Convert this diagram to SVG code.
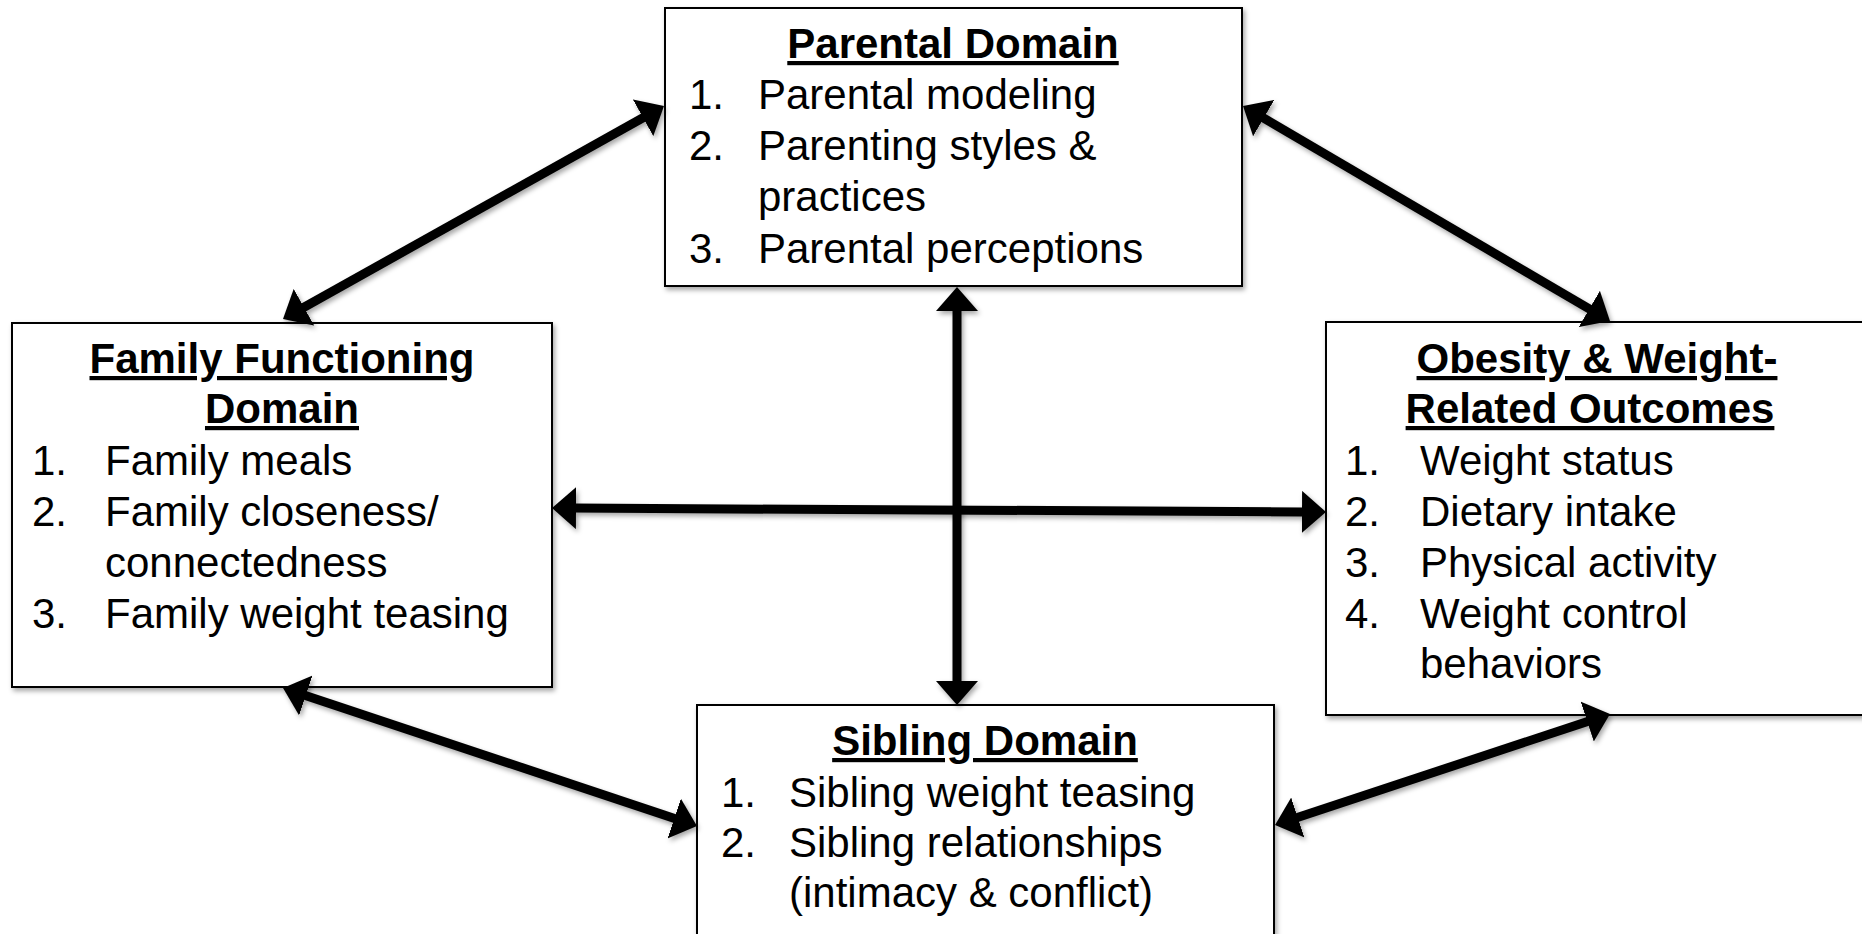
<svg xmlns="http://www.w3.org/2000/svg" width="1862" height="934" viewBox="0 0 1862 934">
  <style>
    .box { fill: #ffffff; stroke: #000000; stroke-width: 2; filter: url(#shadow); }
    .title { font-family: "Liberation Sans", Arial, sans-serif; font-size: 42px; font-weight: bold; text-decoration: underline; text-anchor: middle; fill: #000; }
    .item { font-family: "Liberation Sans", Arial, sans-serif; font-size: 42px; fill: #000; }
    .link { fill: none; stroke: #000000; stroke-width: 9; marker-start: url(#head); marker-end: url(#head); filter: url(#shadow); }
  </style>
  <defs>
    <!-- user-space region so straight horizontal/vertical lines keep their shadow -->
    <filter id="shadow" filterUnits="userSpaceOnUse" x="0" y="0" width="1862" height="934">
      <feDropShadow dx="2" dy="3" stdDeviation="2.5" flood-color="#000000" flood-opacity="0.35"/>
    </filter>
    <marker id="head" markerUnits="userSpaceOnUse" markerWidth="25" markerHeight="42" refX="2" refY="21" orient="auto-start-reverse">
      <path d="M0,0 L24,21 L0,42 z" fill="#000000"/>
    </marker>
  </defs>

  <rect width="1862" height="934" fill="#ffffff"/>

  <!-- Parental domain (top) -->
  <g id="parental">
    <rect class="box" x="665" y="8" width="577" height="278"/>
    <text class="title" x="953" y="58">Parental Domain</text>
    <text class="item" x="689" y="109">1.</text>
    <text class="item" x="758" y="109">Parental modeling</text>
    <text class="item" x="689" y="160">2.</text>
    <text class="item" x="758" y="160">Parenting styles &amp;</text>
    <text class="item" x="758" y="211">practices</text>
    <text class="item" x="689" y="263">3.</text>
    <text class="item" x="758" y="263">Parental perceptions</text>
  </g>

  <!-- Family functioning domain (left) -->
  <g id="family">
    <rect class="box" x="12" y="323" width="540" height="364"/>
    <text class="title" x="282" y="373">Family Functioning</text>
    <text class="title" x="282" y="423">Domain</text>
    <text class="item" x="32" y="475">1.</text>
    <text class="item" x="105" y="475">Family meals</text>
    <text class="item" x="32" y="526">2.</text>
    <text class="item" x="105" y="526">Family closeness/</text>
    <text class="item" x="105" y="577">connectedness</text>
    <text class="item" x="32" y="628">3.</text>
    <text class="item" x="105" y="628">Family weight teasing</text>
  </g>

  <!-- Outcomes (right) -->
  <g id="outcomes">
    <rect class="box" x="1326" y="322" width="544" height="393"/>
    <text class="title" x="1597" y="373">Obesity &amp; Weight-</text>
    <text class="title" x="1590" y="423">Related Outcomes</text>
    <text class="item" x="1345" y="475">1.</text>
    <text class="item" x="1420" y="475">Weight status</text>
    <text class="item" x="1345" y="526">2.</text>
    <text class="item" x="1420" y="526">Dietary intake</text>
    <text class="item" x="1345" y="577">3.</text>
    <text class="item" x="1420" y="577">Physical activity</text>
    <text class="item" x="1345" y="628">4.</text>
    <text class="item" x="1420" y="628">Weight control</text>
    <text class="item" x="1420" y="678">behaviors</text>
  </g>

  <!-- Sibling domain (bottom) -->
  <g id="sibling">
    <rect class="box" x="697" y="705" width="577" height="260"/>
    <text class="title" x="985" y="755">Sibling Domain</text>
    <text class="item" x="721" y="807">1.</text>
    <text class="item" x="789" y="807">Sibling weight teasing</text>
    <text class="item" x="721" y="857">2.</text>
    <text class="item" x="789" y="857">Sibling relationships</text>
    <text class="item" x="789" y="907">(intimacy &amp; conflict)</text>
  </g>

  <!-- Two-way links between domains -->
  <g id="connectors">
    <line class="link" x1="644.8" y1="116.8" x2="302.2" y2="308.2"/>
    <line class="link" x1="1262" y1="117.1" x2="1591" y2="309.9"/>
    <line class="link" x1="957" y1="309" x2="957" y2="683"/>
    <line class="link" x1="574" y1="508.1" x2="1304" y2="511.9"/>
    <line class="link" x1="303.9" y1="694.9" x2="676.1" y2="819.1"/>
    <line class="link" x1="1295.9" y1="818.1" x2="1589.1" y2="720.9"/>
  </g>
</svg>
